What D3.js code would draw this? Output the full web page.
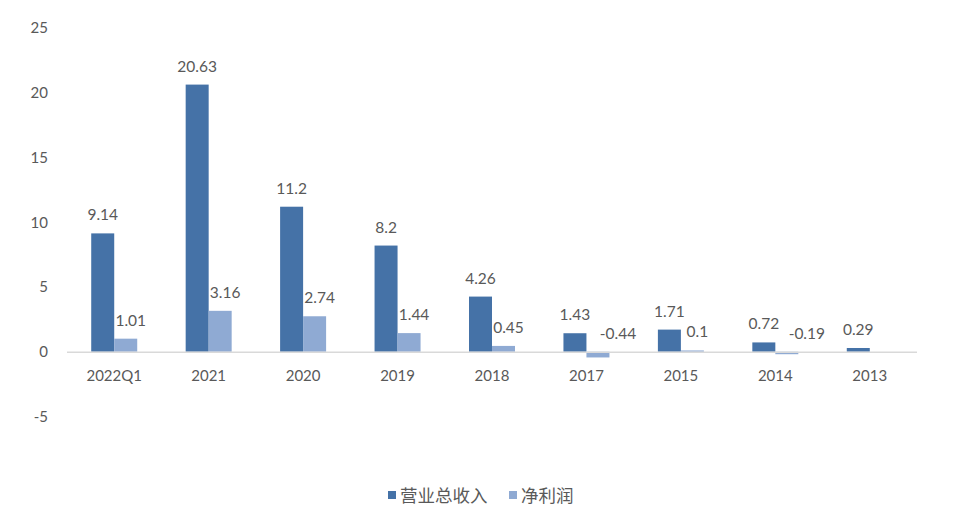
<!DOCTYPE html>
<html>
<head>
<meta charset="utf-8">
<script src="https://cdn.jsdelivr.net/npm/d3@7"></script>
<style>
  body { margin: 0; background: #fff; }
  text { font-family: Lato, "Noto Sans CJK SC", sans-serif; fill: #595959; }
</style>
</head>
<body>
<svg id="SVG_CONTAINER" width="961" height="513"></svg>
<script>
const categories = ["2022Q1", "2021", "2020", "2019", "2018", "2017", "2015", "2014", "2013"];
const revenue = [9.14, 20.63, 11.2, 8.2, 4.26, 1.43, 1.71, 0.72, 0.29];
const netProfit = [1.01, 3.16, 2.74, 1.44, 0.45, -0.44, 0.1, -0.19, null];
const seriesNames = ["营业总收入", "净利润"];
const yTicks = [-5, 0, 5, 10, 15, 20, 25];

const COLORS = ["#4572A7", "#8FAAD3"];
const MARGIN = { LEFT: 67, RIGHT: 44, TOP: 28, BOTTOM: 97 };
const width = 961, height = 513;

const svg = d3.select("#SVG_CONTAINER");

const x = d3.scaleBand()
    .domain(categories)
    .range([MARGIN.LEFT, width - MARGIN.RIGHT]);

const xInner = d3.scaleBand()
    .domain([0, 1])
    .range([0, 46]);

const y = d3.scaleLinear()
    .domain([-5, 25])
    .range([416.5, 28]);

// y tick labels (no axis line, no gridlines)
svg.append("g")
    .selectAll("text")
    .data(yTicks)
    .enter()
    .append("text")
        .attr("x", 48)
        .attr("y", d => y(d))
        .attr("dy", "0.35em")
        .attr("text-anchor", "end")
        .style("font-size", "15px")
        .text(d => d);

const series = [revenue, netProfit];

series.forEach(function (vals, s) {
    let g = svg.append("g");
    let data = categories.map((c, i) => ({ c: c, v: vals[i] })).filter(d => d.v !== null);

    g.selectAll("rect")
        .data(data)
        .enter()
        .append("rect")
            .attr("x", d => x(d.c) + x.bandwidth() / 2 - 23 + xInner(s))
            .attr("width", xInner.bandwidth())
            .attr("y", d => y(Math.max(d.v, 0)))
            .attr("height", d => Math.abs(y(d.v) - y(0)))
            .attr("fill", COLORS[s]);

    // net profit labels sit a little to the right, as in the source
    g.selectAll("text")
        .data(data)
        .enter()
        .append("text")
            .attr("x", d => x(d.c) + x.bandwidth() / 2 - 23 + xInner(s) + xInner.bandwidth() / 2)
            .attr("dx", d => s === 0 ? 0 : (d.v < 0 ? 20 : 5))
            .attr("y", d => y(Math.max(d.v, 0)) - 13)
            .attr("text-anchor", "middle")
            .style("font-size", "15.5px")
            .text(d => d.v);
});

// zero line
svg.append("line")
    .attr("x1", MARGIN.LEFT)
    .attr("x2", width - MARGIN.RIGHT)
    .attr("y1", y(0) + 0.5)
    .attr("y2", y(0) + 0.5)
    .attr("stroke", "#d9d9d9")
    .attr("stroke-width", 1.5);

// category labels
svg.append("g")
    .selectAll("text")
    .data(categories)
    .enter()
    .append("text")
        .attr("x", d => x(d) + x.bandwidth() / 2)
        .attr("y", 381)
        .attr("text-anchor", "middle")
        .style("font-size", "15px")
        .text(d => d);

// legend
const legendX = [388, 509];
seriesNames.forEach(function (name, i) {
    svg.append("rect")
        .attr("x", legendX[i])
        .attr("y", 491)
        .attr("width", 8)
        .attr("height", 8)
        .attr("fill", COLORS[i]);
    svg.append("text")
        .attr("x", legendX[i] + 12)
        .attr("y", 501.5)
        .style("font-size", "17.5px")
        .style("font-family", "'Noto Sans CJK SC', sans-serif")
        .text(name);
});
</script>
</body>
</html>
